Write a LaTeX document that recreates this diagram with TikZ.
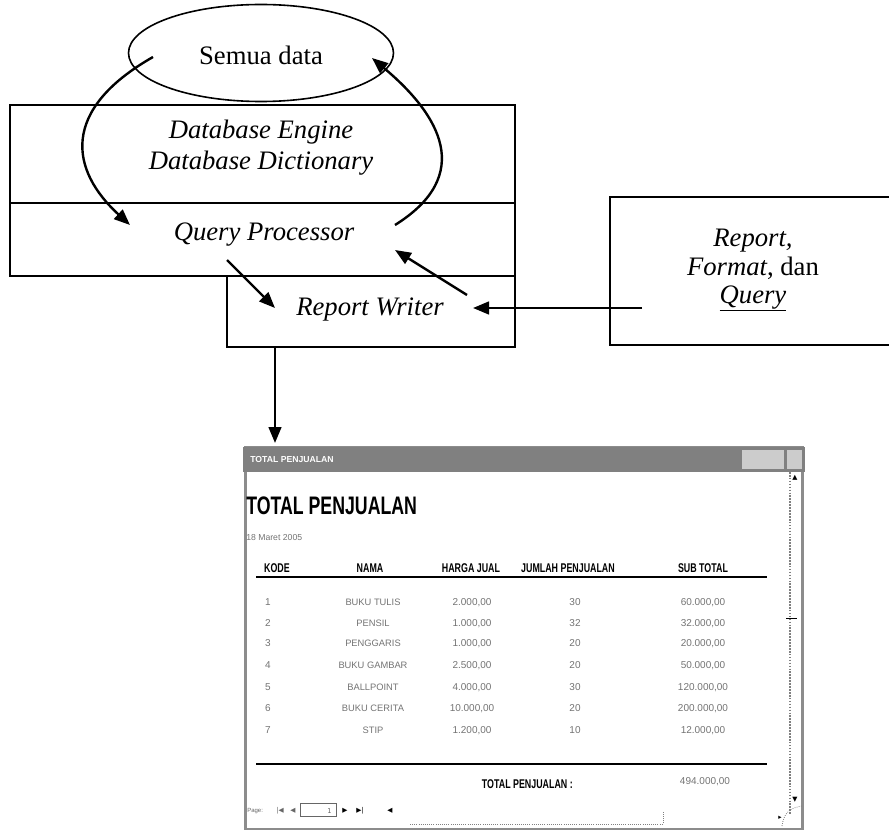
\documentclass[tikz,border=0pt]{standalone}
\usepackage{fontspec}
\setmainfont{Liberation Serif}
\newfontfamily\uisans{Liberation Sans}
\newfontfamily\uicond{Liberation Sans}[FakeStretch=0.7]
\newfontfamily\uisym{DejaVu Sans}
\usetikzlibrary{arrows.meta,shapes.geometric}

\tikzset{
  blk/.style={draw=black, line width=1.5pt, inner sep=0pt, rectangle},
  flow/.style={line width=1.8pt, -{Triangle[length=12pt,width=9.5pt]}},
  serifit/.style={font=\fontsize{20}{24}\selectfont\itshape, inner sep=0pt, anchor=base},
  colhead/.style={font=\uicond\bfseries\fontsize{9.5}{11}\selectfont, inner sep=0pt, anchor=base},
  cell/.style={font=\uisans\fontsize{7}{8}\selectfont, text=black!55, inner sep=0pt, anchor=base},
  num/.style={font=\uisans\fontsize{7.5}{9}\selectfont, text=black!55, inner sep=0pt, anchor=base},
  tiny/.style={font=\uisym\fontsize{5}{6}\selectfont, text=black!60, inner sep=0pt},
}

\begin{document}
\begin{tikzpicture}[x=0.75pt,y=-0.75pt]
\useasboundingbox (0,0) rectangle (889,831);

% ---- data store ----
\node[draw, ellipse, line width=1.2pt, minimum width=198.75pt, minimum height=72.75pt, inner sep=0pt] (alldata) at (261,53) {};
\node[font=\fontsize{20}{24}\selectfont, inner sep=0pt, anchor=base] (alldatatxt) at (261,65) {Semua data};

% ---- DBMS layers ----
\node[blk, minimum width=378.75pt, minimum height=73.5pt] (engine) at (262.5,154) {};
\node[blk, minimum width=378.75pt, minimum height=54.75pt] (qproc) at (262.5,239.5) {};
\node[blk, minimum width=216pt, minimum height=53.25pt] (rwriter) at (371,311.5) {};
\node[serifit] (engine1) at (261,139) {Database Engine};
\node[serifit] (engine2) at (261,170) {Database Dictionary};
\node[serifit] (qproctxt) at (264,240) {Query Processor};
\node[serifit] (rwritertxt) at (370,315) {Report Writer};

% ---- user definitions ----
\node[blk, minimum width=217.5pt, minimum height=111pt] (userdef) at (755,271) {};
\node[serifit] (ud1) at (753,247) {Report,};
\node[serifit] (ud2) at (753,275) {\textit{Format}\upshape, dan};
\node[serifit] (ud3) at (753,303) {\underline{Query}};

% ---- connectors ----
\coordinate (a1s) at (153,57);  \coordinate (a1e) at (130,225);
\coordinate (a2s) at (395,225); \coordinate (a2e) at (372,58);
\coordinate (a3s) at (227,260); \coordinate (a3e) at (275,308);
\coordinate (a4s) at (467,295); \coordinate (a4e) at (395,250);
\coordinate (a5s) at (642,308); \coordinate (a5e) at (473,308);
\coordinate (a6s) at (275,347); \coordinate (a6e) at (275,443);
\draw[flow] (a1s) .. controls (60,110) and (70,170) .. (a1e);
\draw[flow] (a2s) .. controls (475,175) and (440,115) .. (a2e);
\draw[flow] (a3s) -- (a3e);
\draw[flow] (a4s) -- (a4e);
\draw[flow] (a5s) -- (a5e);
\draw[flow] (a6s) -- (a6e);

% ---- report window ----
\node[draw=black!45, line width=1.6pt, inner sep=0pt, minimum width=417.75pt, minimum height=286.5pt] (win) at (524,638) {};
\fill[black!50] (243,447) rectangle (805,472);
\node[font=\uisans\bfseries\fontsize{6.5}{8}\selectfont, text=white, inner sep=0pt, anchor=west] (wincap) at (250,460) {TOTAL PENJUALAN};
\fill[black!20] (742,450) rectangle (784,469);
\fill[black!20] (787,450) rectangle (802,469);
% vertical scrollbar
\draw[black!50, line width=1.2pt, densely dotted] (790,472) -- (790,815);
\node[tiny, text=black] (vup) at (795,478) {▲};
\draw[black, line width=0.6pt] (786,618) -- (797,618);
\node[tiny, text=black] (vdn) at (795,800) {▼};

% report heading
\node[font=\uicond\bfseries\fontsize{19}{22}\selectfont, inner sep=0pt, anchor=base west] (rtitle) at (246,514) {TOTAL PENJUALAN};
\node[font=\uisans\fontsize{6.5}{8}\selectfont, text=black!55, inner sep=0pt, anchor=base west] (rdate) at (246,540) {18 Maret 2005};

% column headings
\node[colhead] (hkode) at (277,572) {KODE};
\node[colhead] (hnama) at (370,572) {NAMA};
\node[colhead] (hharga) at (471,572) {HARGA JUAL};
\node[colhead] (hjml) at (568,572) {JUMLAH PENJUALAN};
\node[colhead] (hsub) at (703,572) {SUB TOTAL};
\coordinate (hl1) at (256,577); \coordinate (hl2) at (767,577);
\draw[line width=1.5pt] (hl1) -- (hl2);

% rows
\foreach \k/\nm/\hg/\jm/\st/\yy in {
  1/BUKU TULIS/{2.000,00}/30/{60.000,00}/605,
  2/PENSIL/{1.000,00}/32/{32.000,00}/626,
  3/PENGGARIS/{1.000,00}/20/{20.000,00}/646,
  4/BUKU GAMBAR/{2.500,00}/20/{50.000,00}/668,
  5/BALLPOINT/{4.000,00}/30/{120.000,00}/690,
  6/BUKU CERITA/{10.000,00}/20/{200.000,00}/711,
  7/STIP/{1.200,00}/10/{12.000,00}/733}
{
  \node[num] (k\k) at (268,\yy) {\k};
  \node[cell] (n\k) at (373,\yy) {\nm};
  \node[num] (h\k) at (472,\yy) {\hg};
  \node[num] (j\k) at (575,\yy) {\jm};
  \node[num] (s\k) at (703,\yy) {\st};
}
\coordinate (bl1) at (256,764); \coordinate (bl2) at (767,764);
\draw[line width=1.5pt] (bl1) -- (bl2);
\node[colhead, anchor=base east] (tlabel) at (573,788) {TOTAL PENJUALAN :};
\node[num] (tval) at (705,784) {494.000,00};

% page navigation
\node[font=\uisans\fontsize{4.5}{5}\selectfont, text=black!60, inner sep=0pt, anchor=west] (pg) at (247,811) {Page:};
\node[tiny] (nfirst) at (280,811) {|◀};
\node[tiny] (nprev) at (293,811) {◀};
\node[draw=black!60, line width=0.6pt, minimum width=27pt, minimum height=10pt, inner sep=0pt] (npage) at (318,810) {};
\node[tiny, anchor=east] (npgno) at (332,811) {1};
\node[tiny, text=black] (nnext) at (345,811) {▶};
\node[tiny, text=black] (nlast) at (360,811) {▶|};
\node[tiny, text=black] (hleft) at (390,811) {◀};
\draw[black!50, line width=0.6pt, densely dotted] (410,824) -- (663,824) -- (663,812);
% resize grip
\draw[black!50, line width=0.6pt, densely dotted] (782,826) .. controls (784,812) and (790,808) .. (802,806);
\node[tiny, text=black] (vend) at (780,818) {▸};
\end{tikzpicture}
\end{document}
